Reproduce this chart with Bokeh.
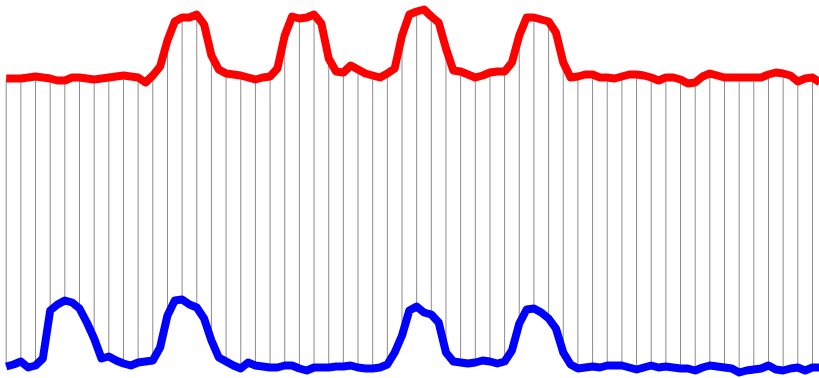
import numpy as np
from bokeh.plotting import figure
from bokeh.models import Range1d, ColumnDataSource
from bokeh.embed import file_html
from bokeh.resources import INLINE

# sample index (two samples per vertical guide)
steps = np.arange(112) / 2.0

red_values = [300, 300, 300, 301, 302, 301, 300, 298, 298, 301, 301, 300, 299, 300, 301, 302,
              303, 302, 301, 296, 303, 312, 338, 357, 361, 361, 364, 354, 323, 309, 305, 304,
              303, 301, 299, 301, 302, 310, 343, 362, 360, 361, 364, 355, 320, 307, 306, 313,
              309, 305, 303, 301, 305, 310, 343, 364, 367, 369, 362, 356, 330, 308, 307, 304,
              301, 303, 306, 307, 307, 316, 343, 361, 361, 359, 357, 346, 316, 301, 302, 304,
              304, 301, 301, 300, 302, 304, 304, 303, 301, 298, 301, 301, 299, 295, 296, 302,
              305, 303, 301, 301, 301, 301, 301, 301, 304, 306, 305, 303, 297, 300, 301, 296]

blue_values = [12, 14, 17, 11, 13, 20, 68, 74, 78, 76, 70, 56, 40, 20, 22, 18,
               15, 13, 16, 17, 18, 31, 63, 78, 79, 74, 71, 60, 38, 21, 17, 13,
               10, 16, 13, 12, 11, 11, 13, 13, 10, 8, 11, 11, 11, 12, 12, 13,
               11, 10, 10, 11, 14, 26, 43, 68, 72, 66, 64, 56, 26, 17, 16, 15,
               16, 18, 17, 15, 17, 28, 55, 69, 70, 66, 60, 50, 26, 14, 10, 11,
               12, 11, 13, 13, 13, 11, 9, 11, 13, 11, 12, 11, 10, 10, 8, 11,
               13, 12, 11, 10, 6, 8, 9, 10, 13, 9, 8, 10, 11, 8, 11, 11]

src = ColumnDataSource(dict(x=steps, red=red_values, blue=blue_values))
seg_src = ColumnDataSource(dict(x=steps[::2], red=red_values[::2], blue=blue_values[::2]))

p = figure(width=819, height=378, output_backend="svg", toolbar_location=None,
           x_range=Range1d(-0.389, 55.48), y_range=Range1d(0, 378), min_border=0)
p.axis.visible = False
p.grid.visible = False
p.outline_line_color = None
p.background_fill_color = "white"
p.border_fill_color = "white"

p.segment(x0="x", y0="blue", x1="x", y1="red", source=seg_src,
          line_color="#8c8c8c", line_width=1)
p.line(x="x", y="red", source=src, line_color="#ff0000", line_width=8, line_join="round")
p.line(x="x", y="blue", source=src, line_color="#0000ff", line_width=8, line_join="round")

open("out.html", "w").write(file_html(p, INLINE))
